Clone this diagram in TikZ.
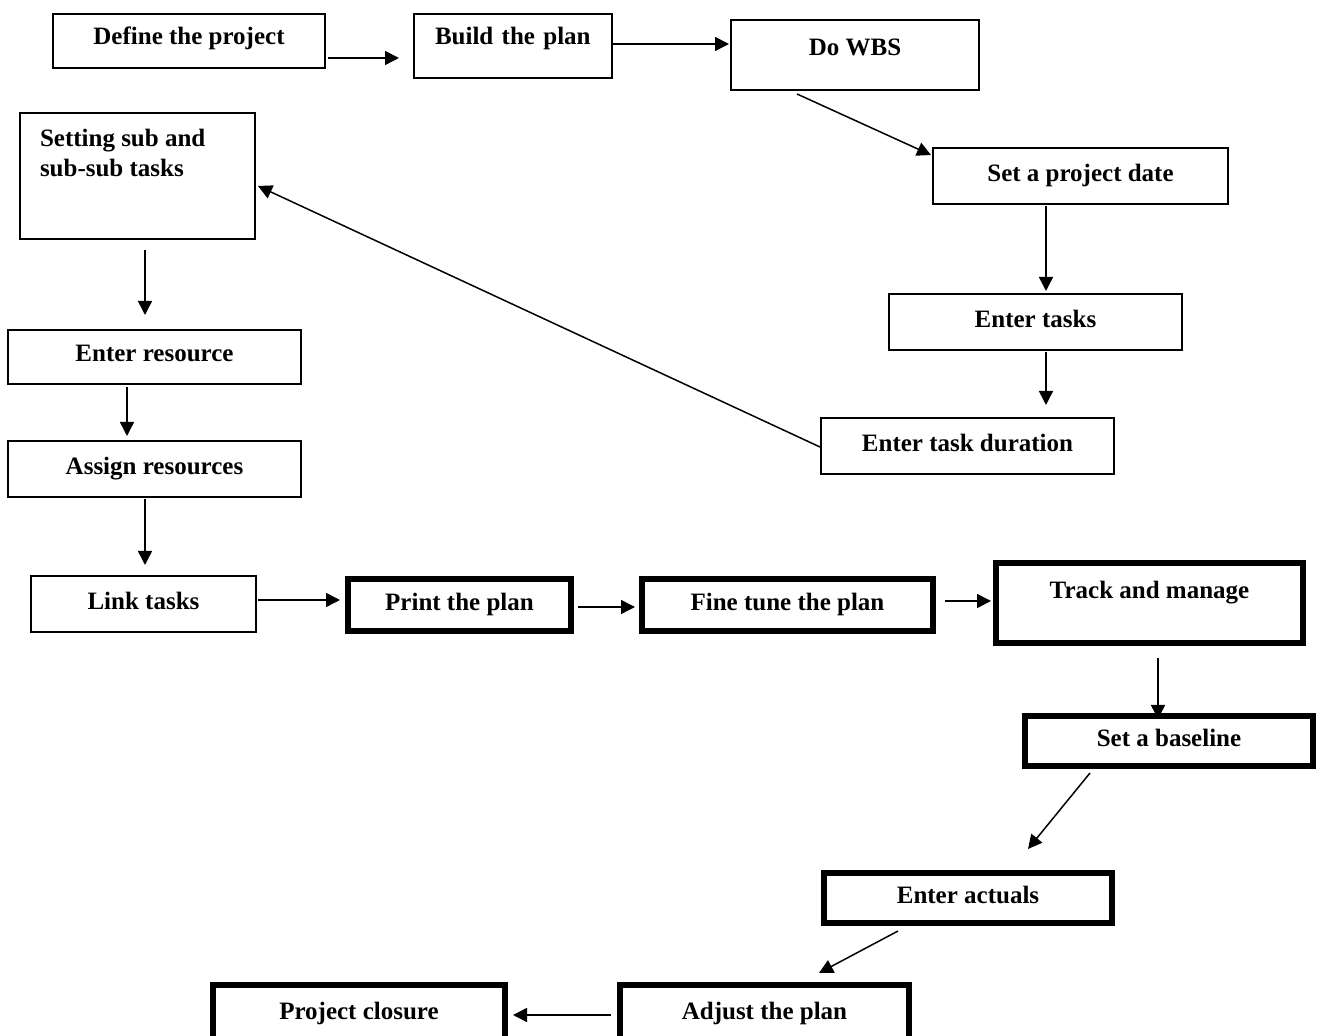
\documentclass[tikz,border=0pt]{standalone}
\usepackage{fontspec}
\setmainfont{Liberation Serif}
\usetikzlibrary{arrows.meta}

\begin{document}
\begin{tikzpicture}[x=0.5pt, y=-0.5pt,
  plain/.style={draw, line width=1pt, inner sep=0pt, font=\fontsize{12.5}{15}\selectfont\bfseries},
  box/.style={plain, minimum height=28pt, text height=9pt, text depth=3pt},
  thickbox/.style={box, line width=3pt},
  arr/.style={-{Triangle[length=7pt,width=7pt]}, line width=0.75pt}]
  \clip (0,0) rectangle (1318,1036);

  % Planning boxes
  \node[box, minimum width=136pt, minimum height=27pt, text depth=5pt] (define) at (189,41) {Define the project};
  \node[box, minimum height=32pt, text width=78pt, inner xsep=10.5pt, align=left, text depth=10pt] (build) at (513,46) {Build the plan};
  \node[box, minimum width=124pt, minimum height=35pt, text depth=8pt] (wbs) at (855,55) {Do WBS};
  \node[box, minimum width=147.5pt] (date) at (1080.5,176) {Set a project date};
  \node[box, minimum width=146.5pt] (tasks) at (1035.5,322) {Enter tasks};
  \node[box, minimum width=146.5pt] (duration) at (967.5,446) {Enter task duration};
  \node[plain, inner xsep=10pt] (subtasks) at (137.5,176)
    {\parbox[c][63pt][t]{97.5pt}{\raggedright\vspace*{8pt}Setting sub and\\sub-sub tasks}};
  \node[box, minimum width=146.5pt, minimum height=27pt, text depth=4pt] (resource) at (154.5,357) {Enter resource};
  \node[box, minimum width=146.5pt] (assign) at (154.5,469) {Assign resources};
  \node[box, minimum width=112.5pt] (link) at (143.5,604) {Link tasks};

  % Tracking boxes
  \node[thickbox, minimum width=111.5pt, minimum height=26pt] (print) at (459.5,605) {Print the plan};
  \node[thickbox, minimum width=145.5pt, minimum height=26pt] (finetune) at (787.5,605) {Fine tune the plan};
  \node[thickbox, minimum width=153.5pt, minimum height=39.75pt, text depth=13pt] (track) at (1149.5,603) {Track and manage};
  \node[thickbox, minimum width=144pt, minimum height=25pt] (baseline) at (1169,741) {Set a baseline};
  \node[thickbox, minimum width=144pt, minimum height=25pt] (actuals) at (968,898) {Enter actuals};
  \node[thickbox, minimum width=144.5pt, minimum height=29pt] (adjust) at (764.5,1014) {Adjust the plan};
  \node[thickbox, minimum width=146pt, minimum height=29pt] (closure) at (359,1014) {Project closure};

  % Arrows
  \draw[arr] ([xshift=1pt, yshift=-8.5pt]define.east) -- ([xshift=-7pt, yshift=-6pt]build.west);
  \draw[arr] ([yshift=1pt]build.east) -- ([xshift=-0.5pt, yshift=5.5pt]wbs.west);
  \draw[arr] ([xshift=-29pt, yshift=-1.5pt]wbs.south) -- ([xshift=-0.5pt, yshift=-4pt]date.north west);
  \draw[arr] ([xshift=-17.25pt, yshift=-0.5pt]date.south) -- ([xshift=5.25pt, yshift=1pt]tasks.north);
  \draw[arr] ([xshift=5.25pt, yshift=-0.5pt]tasks.south) -- ([xshift=39.25pt, yshift=6pt]duration.north);
  \draw[arr] ([yshift=-0.5pt]duration.west) -- ([xshift=1pt, yshift=-5pt]subtasks.east);
  \draw[arr] ([xshift=3.75pt, yshift=-5pt]subtasks.south) -- ([xshift=-4.75pt, yshift=7pt]resource.north);
  \draw[arr] ([xshift=-13.75pt, yshift=-1pt]resource.south) -- ([xshift=-13.75pt, yshift=2pt]assign.north);
  \draw[arr] ([xshift=-4.75pt, yshift=-0.5pt]assign.south) -- ([xshift=0.75pt, yshift=5pt]link.north);
  \draw[arr] ([xshift=0.5pt, yshift=2pt]link.east) -- ([xshift=-2.5pt, yshift=2.5pt]print.west);
  \draw[arr] ([xshift=2pt, yshift=-1pt]print.east) -- ([xshift=-2pt, yshift=-1pt]finetune.west);
  \draw[arr] ([xshift=4.5pt, yshift=2pt]finetune.east) -- ([xshift=-1pt, yshift=1pt]track.west);
  \draw[arr] ([xshift=4.25pt, yshift=-6pt]track.south) -- ([xshift=-5.5pt, yshift=-3pt]baseline.north);
  \draw[arr] ([xshift=-39.5pt, yshift=-2pt]baseline.south) -- ([xshift=30pt, yshift=10.5pt]actuals.north);
  \draw[arr] ([xshift=-35pt, yshift=-2.5pt]actuals.south) -- ([xshift=27.25pt, yshift=4.5pt]adjust.north);
  \draw[arr] ([xshift=-3pt, yshift=-0.5pt]adjust.west) -- ([xshift=2.5pt, yshift=-0.5pt]closure.east);
\end{tikzpicture}
\end{document}
